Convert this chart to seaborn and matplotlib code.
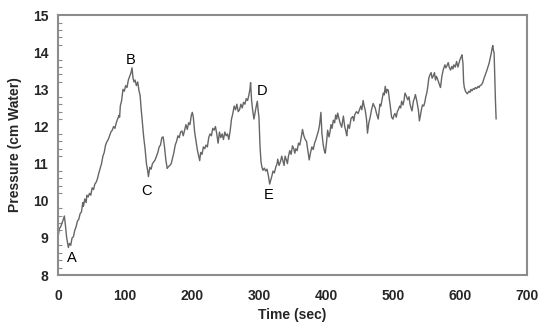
import matplotlib
matplotlib.use('Agg')
import matplotlib.pyplot as plt
import seaborn as sns
import pandas as pd
from matplotlib.ticker import MultipleLocator

# Data
time_sec = [
    0, 2, 4, 6, 8, 9.5, 11, 13, 15.5, 17, 19, 21, 23, 25, 27, 29, 31, 33, 35, 37,
    38, 40, 42, 43, 45, 47, 49, 51, 53, 55, 57, 59, 61, 63, 65, 67, 69, 71, 73, 75,
    77, 79, 81, 83, 85, 87, 89, 91, 92, 93, 95, 97, 99, 101, 103, 105, 107, 109, 110.5, 112,
    113.5, 115, 117, 119, 121, 122.5, 124, 126, 128, 130, 132, 133.5, 135, 137, 139, 141, 143, 145, 147, 149,
    151, 153, 155, 157, 159, 161, 163, 165, 167, 169, 171, 173, 175, 177, 179, 181, 183, 185, 187, 189,
    191, 193, 195, 197, 199, 200.5, 202, 204, 206, 208, 210, 211.5, 213, 215, 217, 219, 221, 223, 225, 227,
    229, 231, 233, 235, 237, 239, 241, 243, 245, 247, 249, 251, 253, 255, 257, 259, 261, 263, 265, 267,
    269, 271, 273, 275, 277, 279, 281, 283, 285, 286.5, 287.5, 289, 290.5, 292.5, 294, 296, 297.5, 299, 300, 301.5,
    303, 304.5, 306, 308, 310, 312, 314, 316, 317.5, 319, 321, 323, 325, 327, 328, 330, 332, 334, 336, 337.5,
    339, 341, 342.5, 344, 346, 348, 350, 352, 353.5, 355, 357, 359, 361, 363, 365, 367, 369, 371, 373, 375,
    377, 379, 381, 383, 385, 387, 389, 390.5, 392.5, 394, 396, 397.5, 399, 401, 402.5, 404.5, 406, 407.5, 409, 411,
    413, 414.5, 416, 417.5, 419, 421, 423.5, 426, 428, 430, 431, 433, 435, 437.5, 440, 441.5, 443, 445.5, 448, 450,
    452, 453.5, 455.5, 457, 458.5, 460.5, 462, 464, 466, 468, 470.5, 472, 473.5, 475.5, 478, 480.5, 482, 484, 485.5, 487,
    488.5, 490, 491.5, 493, 494.5, 496, 498, 500, 501.5, 503, 505, 506.5, 508, 510, 511.5, 513, 515, 516.5, 518, 520,
    522, 524, 525.5, 527, 528.5, 530.5, 532, 533.5, 535.5, 537, 538, 539.5, 541, 542.5, 544, 546, 547.5, 549, 550.5, 552,
    553.5, 555, 557, 558.5, 560, 562, 563.5, 565, 566.5, 568, 569.5, 571, 573, 575, 577.5, 579, 580.5, 582.5, 584, 586,
    588, 589.5, 591, 593, 595, 597, 598.5, 600, 602, 603, 604.5, 605.5, 606.5, 608.5, 611, 613.5, 615, 616.5, 618, 620,
    621.5, 623, 625, 627, 628.5, 630, 632, 634, 636, 638, 640, 642, 643.5, 645, 646.5, 648, 649, 650, 651, 652,
    653, 654,
]
pressure = [
    9.0, 9.25, 9.3, 9.4, 9.5, 9.59, 9.35, 9.0, 8.74, 8.85, 8.8, 9.0, 9.03, 9.2, 9.3, 9.45, 9.5, 9.65, 9.7, 9.95,
    9.85, 10.05, 9.95, 10.15, 10.1, 10.2, 10.15, 10.35, 10.3, 10.45, 10.5, 10.6, 10.75, 10.87, 11.0, 11.2, 11.3, 11.5, 11.59, 11.65,
    11.75, 11.85, 11.9, 12.0, 11.95, 12.1, 12.2, 12.3, 12.25, 12.55, 12.7, 13.0, 12.95, 13.1, 13.05, 13.25, 13.35, 13.45, 13.58, 13.3,
    13.2, 13.25, 13.1, 13.2, 12.95, 12.85, 12.5, 12.1, 11.7, 11.4, 11.0, 10.85, 10.65, 10.9, 10.85, 11.0, 11.05, 11.1, 11.2, 11.3,
    11.45, 11.5, 11.7, 11.72, 11.45, 11.1, 10.87, 10.92, 10.95, 11.0, 11.15, 11.3, 11.5, 11.6, 11.75, 11.7, 11.85, 11.88, 11.75, 11.9,
    12.05, 11.92, 12.1, 12.05, 12.3, 12.38, 12.25, 11.85, 11.6, 11.37, 11.2, 11.08, 11.3, 11.25, 11.45, 11.4, 11.5, 11.45, 11.7, 11.8,
    11.75, 11.95, 11.9, 12.0, 11.8, 11.55, 11.85, 11.7, 11.8, 11.65, 11.85, 11.75, 11.8, 11.65, 11.88, 12.2, 12.35, 12.55, 12.45, 12.6,
    12.4, 12.45, 12.6, 12.5, 12.65, 12.6, 12.75, 12.7, 12.85, 13.0, 13.18, 12.7, 12.45, 12.2, 12.35, 12.55, 12.68, 12.4, 12.25, 11.5,
    11.05, 10.9, 10.82, 10.88, 10.8, 10.85, 10.68, 10.45, 10.55, 10.65, 10.8, 10.75, 10.9, 11.0, 11.12, 10.95, 11.05, 11.2, 11.05, 10.95,
    11.2, 11.1, 11.0, 11.2, 11.35, 11.25, 11.48, 11.4, 11.28, 11.4, 11.35, 11.55, 11.5, 11.7, 11.92, 11.75, 11.65, 11.6, 11.35, 11.1,
    11.3, 11.45, 11.38, 11.55, 11.65, 11.78, 11.9, 12.05, 12.38, 11.8, 11.5, 11.35, 11.28, 11.6, 11.9, 11.72, 11.85, 12.05, 11.95, 12.17,
    12.1, 12.31, 12.2, 12.36, 12.25, 12.1, 11.98, 12.28, 12.0, 11.85, 11.75, 12.05, 11.95, 12.22, 12.27, 12.15, 12.32, 12.4, 12.35, 12.45,
    12.55, 12.45, 12.7, 12.55, 12.45, 12.2, 11.82, 12.1, 12.25, 12.45, 12.62, 12.55, 12.5, 12.35, 12.2, 12.6, 12.55, 12.75, 12.9, 12.85,
    13.08, 12.9, 13.0, 12.98, 12.75, 12.55, 12.25, 12.2, 12.3, 12.35, 12.25, 12.4, 12.45, 12.55, 12.5, 12.68, 12.58, 12.7, 12.9, 12.82,
    12.72, 12.8, 12.6, 12.5, 12.42, 12.68, 12.75, 12.86, 12.7, 12.55, 12.44, 12.15, 12.3, 12.45, 12.58, 12.55, 12.65, 12.8, 12.9, 13.07,
    13.3, 13.38, 13.45, 13.3, 13.35, 13.45, 13.25, 13.35, 13.28, 13.2, 13.12, 13.05, 13.35, 13.52, 13.66, 13.58, 13.63, 13.72, 13.6, 13.52,
    13.62, 13.55, 13.66, 13.6, 13.75, 13.6, 13.7, 13.8, 13.88, 13.93, 13.7, 13.2, 13.05, 12.94, 12.88, 12.95, 12.92, 13.0, 12.96, 13.02,
    13.0, 13.05, 13.02, 13.08, 13.05, 13.1, 13.12, 13.18, 13.3, 13.4, 13.5, 13.62, 13.7, 13.82, 13.95, 14.1, 14.18, 14.05, 13.98, 13.3,
    12.7, 12.2,
]

# Event markers
event_labels = ['A', 'B', 'C', 'D', 'E']
event_time = [21, 108, 132, 304, 315]
event_pressure = [8.45, 13.8, 10.25, 12.95, 10.15]

df = pd.DataFrame({'Time (sec)': time_sec, 'Pressure (cm Water)': pressure})

sns.set_style('white')
plt.rcParams['font.family'] = ['Liberation Sans', 'DejaVu Sans']

fig = plt.figure(figsize=(5.39, 3.35), dpi=100)
ax = fig.add_axes([0.1076, 0.179, 0.870, 0.776])

sns.lineplot(data=df, x='Time (sec)', y='Pressure (cm Water)', ax=ax,
             color='#666666', linewidth=1.0, estimator=None, sort=False)

for lab, t, p in zip(event_labels, event_time, event_pressure):
    ax.text(t, p, lab, fontsize=10.5, ha='center', va='center', color='black')

ax.set_xlim(0, 700)
ax.set_ylim(8, 15)
ax.xaxis.set_major_locator(MultipleLocator(100))
ax.yaxis.set_major_locator(MultipleLocator(1))
ax.yaxis.set_minor_locator(MultipleLocator(0.2))

for s in ax.spines.values():
    s.set_visible(True)
    s.set_color('#8c8c8c')
    s.set_linewidth(1.5)

ax.tick_params(axis='both', which='major', direction='out', length=4, width=1,
               color='#8c8c8c', labelsize=10, pad=3)
ax.tick_params(axis='y', which='minor', direction='in', length=3, width=0.8,
               color='#8c8c8c', left=True)
ax.tick_params(axis='x', which='major', pad=6)
for lbl in ax.get_xticklabels() + ax.get_yticklabels():
    lbl.set_fontweight('bold')

ax.set_xlabel('Time (sec)', fontsize=10, fontweight='bold', labelpad=4)
ax.set_ylabel('Pressure (cm Water)', fontsize=10, fontweight='bold', labelpad=8)

plt.savefig('out.png', dpi=100)
